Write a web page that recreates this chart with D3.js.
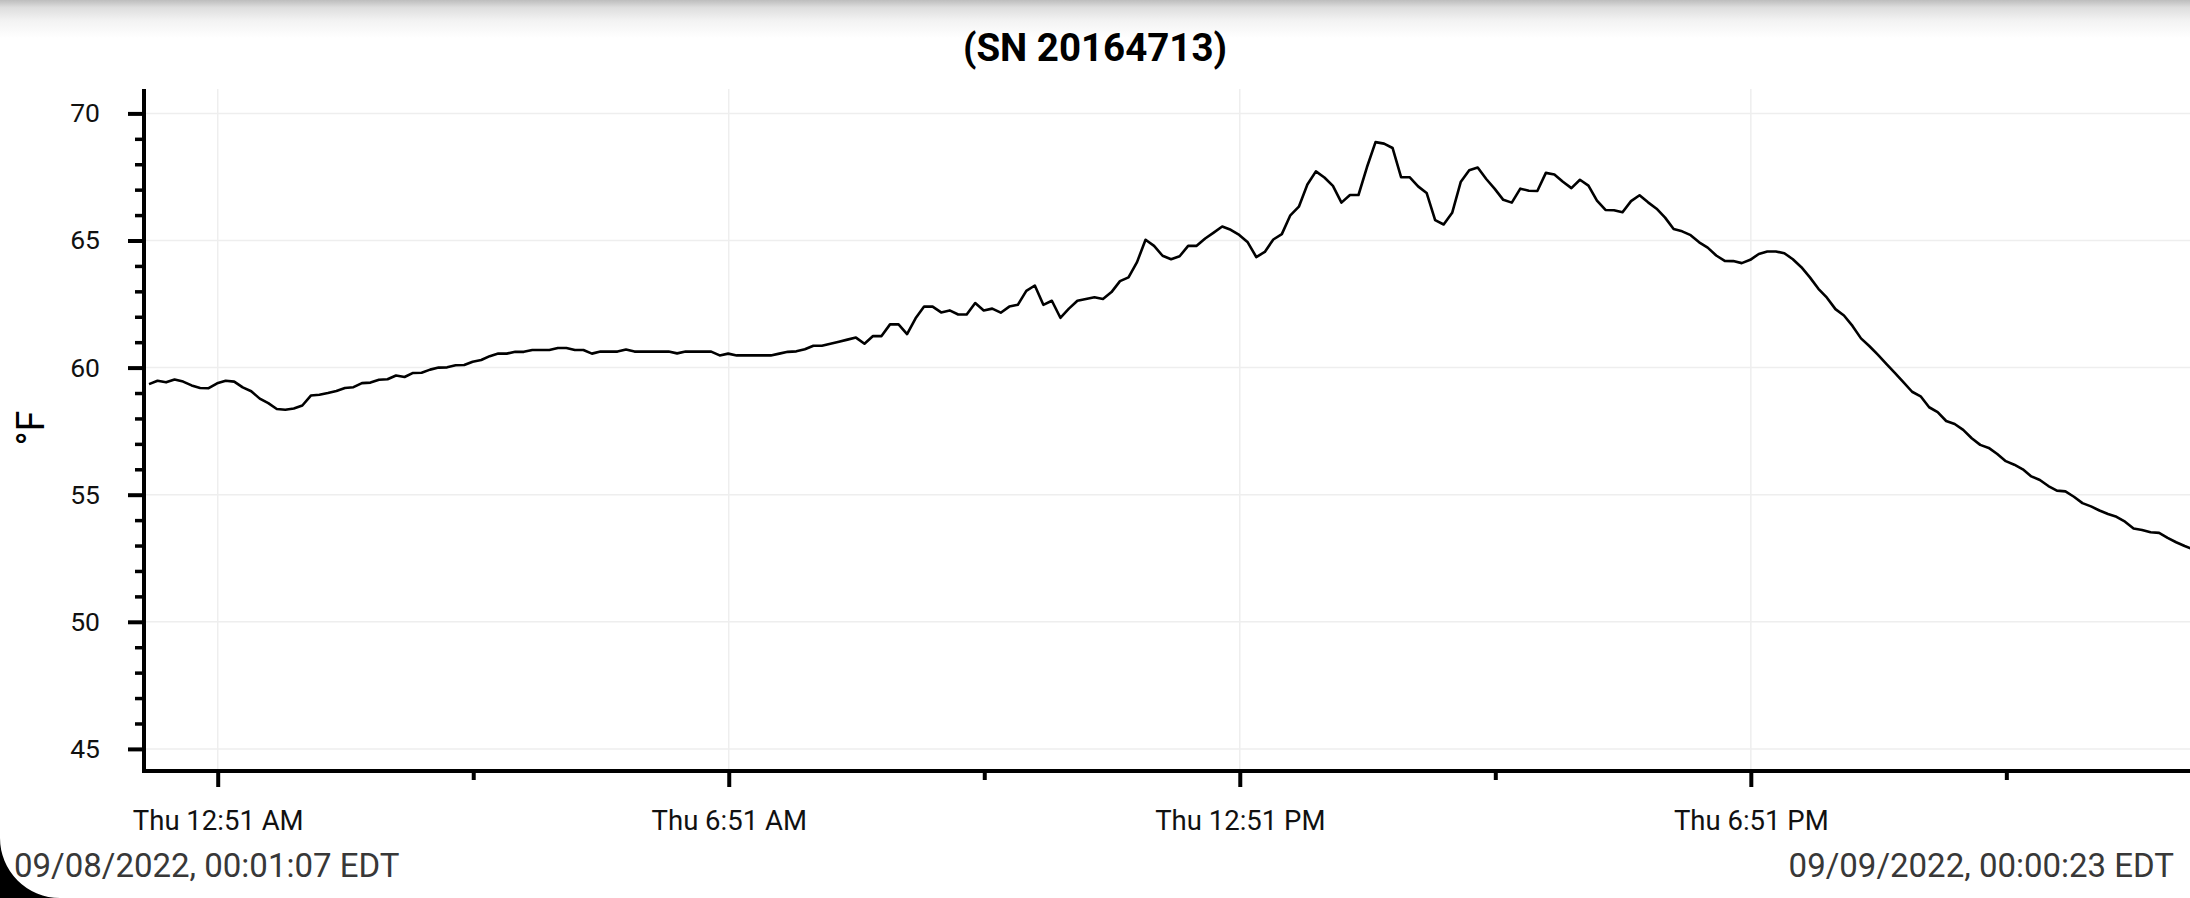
<!DOCTYPE html>
<html>
<head>
<meta charset="utf-8">
<script src="https://cdn.jsdelivr.net/npm/d3@7"></script>
<style>
  html, body { margin: 0; padding: 0; background: #fff; }
  svg { display: block; font-family: Roboto, "Noto Sans", sans-serif; }
</style>
</head>
<body>
<svg id="chart" width="2190" height="898"></svg>
<script>
// logger window
const startTime = new Date("2022-09-08T00:01:07");
const endTime = new Date("2022-09-09T00:00:23");
const sampleStepMin = 6;
const firstSampleMin = 1.5;

// temperature readings (°F), one per sample
const temps = [
  59.35, 59.48, 59.42, 59.53, 59.45, 59.3, 59.2, 59.19, 59.38, 59.48,
  59.45, 59.22, 59.07, 58.78, 58.6, 58.37, 58.34, 58.39, 58.51, 58.9,
  58.93, 59.0, 59.08, 59.2, 59.23, 59.39, 59.41, 59.52, 59.54, 59.69,
  59.63, 59.79, 59.8, 59.92, 60.0, 60.01, 60.09, 60.1, 60.23, 60.3,
  60.45, 60.55, 60.55, 60.62, 60.62, 60.69, 60.69, 60.69, 60.77, 60.77,
  60.69, 60.69, 60.55, 60.63, 60.63, 60.63, 60.71, 60.63, 60.63, 60.63,
  60.63, 60.63, 60.56, 60.63, 60.63, 60.63, 60.63, 60.48, 60.55, 60.48,
  60.48, 60.48, 60.48, 60.48, 60.55, 60.62, 60.64, 60.72, 60.86, 60.86,
  60.94, 61.02, 61.1, 61.18, 60.94, 61.24, 61.24, 61.7, 61.7, 61.32,
  61.94, 62.4, 62.4, 62.17, 62.25, 62.09, 62.09, 62.54, 62.25, 62.32,
  62.16, 62.4, 62.47, 63.02, 63.23, 62.47, 62.63, 61.96, 62.32, 62.63,
  62.7, 62.77, 62.7, 62.97, 63.4, 63.55, 64.15, 65.03, 64.79, 64.4,
  64.26, 64.38, 64.79, 64.79, 65.08, 65.31, 65.55, 65.42, 65.22, 64.93,
  64.35, 64.55, 65.04, 65.25, 65.99, 66.33, 67.2, 67.72, 67.48, 67.15,
  66.49, 66.79, 66.79, 67.89, 68.87, 68.81, 68.64, 67.49, 67.49, 67.13,
  66.87, 65.8, 65.63, 66.09, 67.3, 67.76, 67.87, 67.42, 67.03, 66.6,
  66.49, 67.04, 66.96, 66.95, 67.66, 67.6, 67.31, 67.06, 67.39, 67.16,
  66.57, 66.2, 66.19, 66.11, 66.55, 66.78, 66.5, 66.25, 65.9, 65.45,
  65.36, 65.21, 64.93, 64.72, 64.41, 64.2, 64.19, 64.11, 64.24, 64.47,
  64.57, 64.57, 64.5, 64.26, 63.95, 63.55, 63.1, 62.75, 62.3, 62.05,
  61.64, 61.15, 60.84, 60.5, 60.14, 59.78, 59.42, 59.05, 58.87, 58.44,
  58.25, 57.9, 57.78, 57.55, 57.22, 56.96, 56.84, 56.6, 56.32, 56.18,
  56.0, 55.72, 55.58, 55.34, 55.16, 55.13, 54.92, 54.67, 54.54, 54.38,
  54.24, 54.13, 53.94, 53.67, 53.61, 53.52, 53.5, 53.3, 53.13, 52.98,
  52.85
];

// axis ticks
const majorTimes = ["2022-09-08T00:51", "2022-09-08T06:51", "2022-09-08T12:51", "2022-09-08T18:51"];
const majorLabels = ["Thu 12:51 AM", "Thu 6:51 AM", "Thu 12:51 PM", "Thu 6:51 PM"];
const minorTimes = ["2022-09-08T03:51", "2022-09-08T09:51", "2022-09-08T15:51", "2022-09-08T21:51"];
const yMajor = [45, 50, 55, 60, 65, 70];
const yMinor = d3.range(45, 71, 1);

const title = "(SN 20164713)";
const unitLabel = "°F";
const startLabel = "09/08/2022, 00:01:07 EDT";
const endLabel = "09/09/2022, 00:00:23 EDT";

const data = temps.map((v, i) => ({
  t: new Date(startTime.getTime() + (firstSampleMin + i * sampleStepMin) * 60000),
  v: v
}));

const W = 2190, H = 898;
const axisX = 144, axisY = 771, plotTop = 89;

const svg = d3.select('#chart');

// top shadow
const defs = svg.append('defs');
const grad = defs.append('linearGradient')
  .attr('id', 'topShade').attr('x1', 0).attr('x2', 0).attr('y1', 0).attr('y2', 1);
grad.append('stop').attr('offset', '0').attr('stop-color', '#bdbdbd');
grad.append('stop').attr('offset', '0.2').attr('stop-color', '#dedede');
grad.append('stop').attr('offset', '0.55').attr('stop-color', '#f3f3f3');
grad.append('stop').attr('offset', '1').attr('stop-color', '#ffffff');
svg.append('rect').attr('x', 0).attr('y', 0).attr('width', W).attr('height', 38)
  .attr('fill', 'url(#topShade)');

defs.append('clipPath').attr('id', 'plotClip')
  .append('rect').attr('x', axisX + 2).attr('y', 0).attr('width', W - axisX).attr('height', axisY);

// scales
const x = d3.scaleTime().domain([startTime, endTime]).range([146.9, 2190]);
const y = d3.scaleLinear().domain([45, 70]).range([748.9, 113.4]);

// grid
svg.append('g').selectAll('line').data(yMajor).enter().append('line')
  .attr('x1', axisX).attr('x2', W)
  .attr('y1', d => y(d)).attr('y2', d => y(d))
  .attr('stroke', '#eeeeee').attr('stroke-width', 1.5);
svg.append('g').selectAll('line').data(majorTimes).enter().append('line')
  .attr('x1', d => x(new Date(d))).attr('x2', d => x(new Date(d)))
  .attr('y1', plotTop).attr('y2', axisY)
  .attr('stroke', '#eeeeee').attr('stroke-width', 1.5);

// title
svg.append('text')
  .attr('x', 1095).attr('y', 61)
  .attr('text-anchor', 'middle')
  .attr('font-size', 38.5).attr('font-weight', 'bold').attr('fill', '#000')
  .text(title);

// line
const line = d3.line().x(d => x(d.t)).y(d => y(d.v));
svg.append('path')
  .datum(data)
  .attr('clip-path', 'url(#plotClip)')
  .attr('d', line)
  .attr('fill', 'none')
  .attr('stroke', '#000')
  .attr('stroke-width', 2.6)
  .attr('stroke-linejoin', 'round');

// y axis
const yMinorAxis = d3.axisLeft(y).tickValues(yMinor.filter(v => v % 5 !== 0)).tickSize(9).tickFormat('');
svg.append('g').attr('transform', `translate(${axisX},0)`).call(yMinorAxis)
  .call(g => g.select('.domain').remove())
  .selectAll('line').attr('stroke-width', 3.5);

const yAxis = d3.axisLeft(y).tickValues(yMajor).tickSize(16).tickPadding(28).tickFormat(d3.format('d'));
const gy = svg.append('g').attr('transform', `translate(${axisX},0)`).call(yAxis);
gy.select('.domain').remove();
gy.selectAll('line').attr('stroke-width', 4);
gy.selectAll('text').attr('font-size', 26.5).attr('font-family', 'Roboto').attr('fill', '#111');

// x axis
const xMinorAxis = d3.axisBottom(x).tickValues(minorTimes.map(d => new Date(d))).tickSize(9).tickFormat('');
svg.append('g').attr('transform', `translate(0,${axisY})`).call(xMinorAxis)
  .call(g => g.select('.domain').remove())
  .selectAll('line').attr('stroke-width', 4);

const xAxis = d3.axisBottom(x)
  .tickValues(majorTimes.map(d => new Date(d)))
  .tickSize(16)
  .tickFormat((d, i) => majorLabels[i]);
const gx = svg.append('g').attr('transform', `translate(0,${axisY})`).call(xAxis);
gx.select('.domain').remove();
gx.selectAll('line').attr('stroke-width', 4);
gx.selectAll('text').attr('y', 59).attr('dy', 0)
  .attr('font-size', 27.5).attr('font-family', 'Roboto').attr('fill', '#111');

// axis lines
svg.append('line').attr('x1', axisX).attr('x2', axisX).attr('y1', plotTop).attr('y2', axisY + 2)
  .attr('stroke', '#000').attr('stroke-width', 4);
svg.append('line').attr('x1', axisX - 2).attr('x2', W).attr('y1', axisY).attr('y2', axisY)
  .attr('stroke', '#000').attr('stroke-width', 4);

// unit label
svg.append('text')
  .attr('transform', 'translate(44,428) rotate(-90)')
  .attr('text-anchor', 'middle')
  .attr('font-size', 38).attr('fill', '#000')
  .text(unitLabel);

// range labels
svg.append('text').attr('x', 14).attr('y', 877)
  .attr('font-size', 33).attr('fill', '#383838')
  .text(startLabel);
svg.append('text').attr('x', 2174).attr('y', 877)
  .attr('text-anchor', 'end')
  .attr('font-size', 33).attr('fill', '#383838')
  .text(endLabel);

// rounded screen corner
svg.append('path')
  .attr('d', 'M0,838 A60,60 0 0 0 60,898 L0,898 Z')
  .attr('fill', '#000');
</script>
</body>
</html>
